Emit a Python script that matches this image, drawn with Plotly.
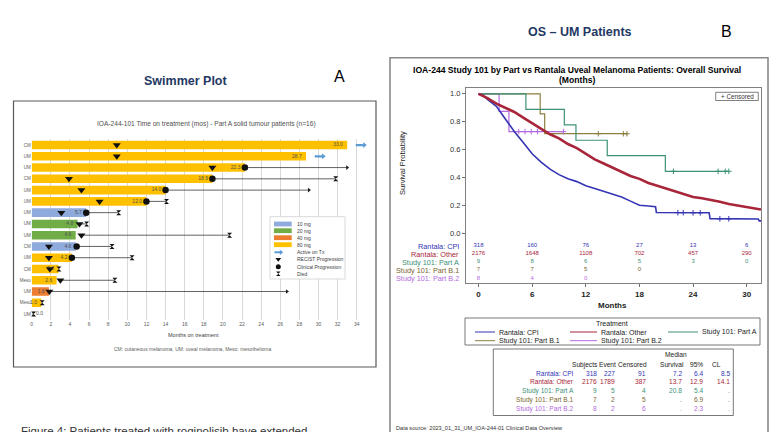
import plotly.graph_objects as go

W, H = 779, 432
FONT = "Liberation Sans, Arial, sans-serif"
NAVY = "#1F3864"

# ---------------- Panel A: swimmer plot data ----------------
sw_tumour = ["CM", "UM", "UM", "CM", "UM", "UM", "UM", "UM", "UM", "CM", "UM", "CM", "Meso", "UM", "Meso", "UM"]
sw_months = [33.0, 28.7, 22.3, 18.9, 14.0, 12.0, 5.7, 4.8, 4.6, 4.6, 4.2, 2.8, 2.6, 1.8, 1.0, 0.0]
sw_dose = ["80 mg", "80 mg", "80 mg", "80 mg", "80 mg", "80 mg", "10 mg", "20 mg", "20 mg", "10 mg",
           "80 mg", "80 mg", "80 mg", "40 mg", "80 mg", "80 mg"]
sw_recist = [8.9, 8.9, 18.9, 3.9, 5.2, 7.1, 3.1, 5.0, 5.2, 1.8, 1.8, 1.9, 3.0, 1.85, None, None]
sw_clinical = [None, None, 22.3, 18.9, 14.0, 12.0, 5.7, None, None, 4.7, 4.2, None, None, None, None, None]
sw_end = [None, None, 33.0, 31.8, 29.0, 14.1, 9.1, 5.75, 20.7, 8.4, 10.5, 2.85, 8.7, 26.7, 1.1, 0.2]
sw_status = ["active", "active", "alive", "died", "alive", "died", "died", "died", "died", "died",
             "died", "died", "died", "alive", "died", "died"]
dose_levels = ["10 mg", "20 mg", "40 mg", "80 mg"]
dose_colors = ["#8FAADC", "#70AD47", "#ED7D31", "#FFC000"]
sw_xticks = list(range(0, 35, 2))

# ---------------- Panel B: Kaplan-Meier data ----------------
km_cpi_t = [0, 0.5, 1, 2, 3, 4, 5, 6, 7, 8, 9, 10, 11, 12, 13, 14, 15, 16, 17, 18, 19, 19.8, 19.9, 25.8, 25.9, 31.3, 31.4, 31.6]
km_cpi_s = [1.0, 0.99, 0.96, 0.91, 0.82, 0.73, 0.65, 0.57, 0.51, 0.46, 0.42, 0.39, 0.37, 0.34, 0.32, 0.30, 0.28,
            0.26, 0.23, 0.20, 0.195, 0.19, 0.148, 0.146, 0.104, 0.102, 0.088, 0.088]
km_oth_t = [0, 1, 2, 3, 4, 5, 6, 7, 8, 9, 10, 11, 12, 13, 14, 15, 16, 17, 18, 19, 20, 21, 22, 23, 24, 25, 26, 27,
            28, 29, 30, 31, 31.6]
km_oth_s = [1.0, 0.97, 0.93, 0.90, 0.87, 0.83, 0.79, 0.75, 0.71, 0.68, 0.64, 0.61, 0.57, 0.53, 0.50, 0.47, 0.44,
            0.41, 0.39, 0.36, 0.34, 0.32, 0.30, 0.28, 0.26, 0.25, 0.24, 0.225, 0.21, 0.20, 0.19, 0.18, 0.17]
km_a_t = [0, 5.3, 9.6, 10.9, 14.4, 20.9, 28.0]
km_a_s = [1.0, 0.889, 0.778, 0.667, 0.556, 0.444, 0.444]
km_b1_t = [0, 6.9, 7.4, 16.7]
km_b1_s = [1.0, 0.857, 0.714, 0.714]
km_b2_t = [0, 2.3, 3.4, 9.5]
km_b2_s = [1.0, 0.875, 0.729, 0.729]
cens_a_t = [21.8, 26.8, 27.6, 28.0]
cens_a_s = [0.444, 0.444, 0.444, 0.444]
cens_b1_t = [13.4, 16.2, 16.6]
cens_b1_s = [0.714, 0.714, 0.714]
cens_b2_t = [4.5, 5.2, 5.9, 6.6, 9.5]
cens_b2_s = [0.729, 0.729, 0.729, 0.729, 0.729]
cens_cpi_t = [22.3, 22.9, 24.0, 24.8, 27.0, 28.0]
cens_cpi_s = [0.147, 0.147, 0.146, 0.146, 0.103, 0.103]

groups = ["Rantala: CPI", "Rantala: Other", "Study 101: Part A", "Study 101: Part B.1", "Study 101: Part B.2"]
group_colors = ["#3434B4", "#A8253A", "#3C9178", "#8C7F3F", "#B36BE0"]
label_colors = ["#3434B4", "#A8253A", "#3C9178", "#7A6630", "#B36BE0"]
risk_times = [0, 6, 12, 18, 24, 30]
risk_counts = [[318, 160, 76, 27, 13, 6],
               [2176, 1648, 1108, 702, 457, 290],
               [9, 8, 6, 5, 3, 0],
               [7, 7, 5, 0],
               [8, 4, 0]]
risk_rows_y = [-0.092, -0.149, -0.207, -0.264, -0.322]

tbl_subjects = [318, 2176, 9, 7, 8]
tbl_event = [227, 1789, 5, 2, 2]
tbl_censored = [91, 387, 4, 5, 6]
tbl_median = ["7.2", "13.7", "20.8", ".", "."]
tbl_cl_low = ["6.4", "12.9", "5.4", "6.9", "2.3"]
tbl_cl_high = ["8.5", "14.1", ".", ".", "."]


def px(x):
    return x / W


def py(y):
    return 1 - y / H


annotations = []
shapes = []


def ann(x, y, text, size, color="#000000", xanchor="center", yanchor="middle", bold=False, angle=0):
    annotations.append(dict(x=px(x), y=py(y), xref="paper", yref="paper", text=text, showarrow=False,
                            font=dict(family=FONT, size=size, color=color, weight="bold" if bold else "normal"),
                            xanchor=xanchor, yanchor=yanchor, textangle=angle, borderpad=0))


def rect(x0, y0, x1, y1, color, width=1.0, fill=None, layer="above"):
    shapes.append(dict(type="rect", xref="paper", yref="paper", x0=px(x0), x1=px(x1), y0=py(y1), y1=py(y0),
                       line=dict(color=color, width=width), fillcolor=fill if fill else "rgba(0,0,0,0)",
                       layer=layer))


def hline(x0, x1, y, color, width=1.0):
    shapes.append(dict(type="line", xref="paper", yref="paper", x0=px(x0), x1=px(x1), y0=py(y), y1=py(y),
                       line=dict(color=color, width=width), layer="above"))


fig = go.Figure()
rows = list(range(len(sw_months)))

# bars by dose
for lvl, col in zip(dose_levels, dose_colors):
    idx = [i for i in rows if sw_dose[i] == lvl]
    fig.add_trace(go.Bar(x=[sw_months[i] for i in idx], y=idx, orientation="h", width=0.76,
                         marker=dict(color=col, line=dict(width=0)), xaxis="x", yaxis="y"))

# bar value labels
lab_x, lab_t, lab_pos = [], [], []
for i in rows:
    m = sw_months[i]
    if m >= 0.5:
        lab_x.append(m - 0.45)
        lab_pos.append("middle left")
    else:
        lab_x.append(m + 0.45)
        lab_pos.append("middle right")
    lab_t.append(f"{m:.1f}")
fig.add_trace(go.Scatter(x=lab_x, y=rows, text=lab_t, mode="text", textposition=lab_pos,
                         textfont=dict(family=FONT, size=5, color="#505050"), cliponaxis=False,
                         xaxis="x", yaxis="y"))

# follow-up lines
fx, fy = [], []
for i in rows:
    if sw_end[i] is None:
        continue
    start = max(v for v in [sw_months[i], sw_recist[i], sw_clinical[i]] if v is not None)
    fx += [start, sw_end[i], None]
    fy += [i, i, None]
fig.add_trace(go.Scatter(x=fx, y=fy, mode="lines", line=dict(color="#3A3A3A", width=0.8),
                         cliponaxis=False, xaxis="x", yaxis="y"))

# alive arrows
al = [i for i in rows if sw_status[i] == "alive"]
fig.add_trace(go.Scatter(x=[sw_end[i] for i in al], y=al, mode="markers",
                         marker=dict(symbol="triangle-right", size=4, color="#202020"),
                         cliponaxis=False, xaxis="x", yaxis="y"))
# deaths
dd = [i for i in rows if sw_status[i] == "died"]
fig.add_trace(go.Scatter(x=[sw_end[i] for i in dd], y=dd, mode="markers",
                         marker=dict(symbol="hourglass", size=5, color="#111111"),
                         cliponaxis=False, xaxis="x", yaxis="y"))
# clinical progression
cp = [i for i in rows if sw_clinical[i] is not None]
fig.add_trace(go.Scatter(x=[sw_clinical[i] for i in cp], y=cp, mode="markers",
                         marker=dict(symbol="circle", size=6.5, color="#111111"),
                         cliponaxis=False, xaxis="x", yaxis="y"))
# RECIST progression
rp = [i for i in rows if sw_recist[i] is not None]
fig.add_trace(go.Scatter(x=[sw_recist[i] for i in rp], y=rp, mode="markers",
                         marker=dict(symbol="triangle-down", size=7, color="#111111"),
                         cliponaxis=False, xaxis="x", yaxis="y"))
# active on treatment arrows
act = [i for i in rows if sw_status[i] == "active"]
ax_, ay_ = [], []
for i in act:
    ax_ += [sw_months[i] + 0.9, sw_months[i] + 1.7, None]
    ay_ += [i, i, None]
fig.add_trace(go.Scatter(x=ax_, y=ay_, mode="lines", line=dict(color="#5B9BD5", width=2.2),
                         cliponaxis=False, xaxis="x", yaxis="y"))
fig.add_trace(go.Scatter(x=[sw_months[i] + 1.8 for i in act], y=act, mode="markers",
                         marker=dict(symbol="triangle-right", size=5, color="#5B9BD5"),
                         cliponaxis=False, xaxis="x", yaxis="y"))

# ---------------- KM curves ----------------
fig.add_trace(go.Scatter(x=km_b2_t, y=km_b2_s, mode="lines", line=dict(color=group_colors[4], width=1.2, shape="hv"),
                         xaxis="x2", yaxis="y2"))
fig.add_trace(go.Scatter(x=km_b1_t, y=km_b1_s, mode="lines", line=dict(color=group_colors[3], width=1.2, shape="hv"),
                         xaxis="x2", yaxis="y2"))
fig.add_trace(go.Scatter(x=km_a_t, y=km_a_s, mode="lines", line=dict(color=group_colors[2], width=1.2, shape="hv"),
                         xaxis="x2", yaxis="y2"))
fig.add_trace(go.Scatter(x=km_cpi_t, y=km_cpi_s, mode="lines", line=dict(color=group_colors[0], width=1.6),
                         xaxis="x2", yaxis="y2"))
fig.add_trace(go.Scatter(x=km_oth_t, y=km_oth_s, mode="lines", line=dict(color=group_colors[1], width=2.6),
                         xaxis="x2", yaxis="y2"))
for ct, cs, col in [(cens_a_t, cens_a_s, group_colors[2]), (cens_b1_t, cens_b1_s, group_colors[3]),
                    (cens_b2_t, cens_b2_s, group_colors[4]), (cens_cpi_t, cens_cpi_s, group_colors[0])]:
    fig.add_trace(go.Scatter(x=ct, y=cs, mode="markers",
                             marker=dict(symbol="cross-thin", size=4, line=dict(color=col, width=1)),
                             xaxis="x2", yaxis="y2"))

# at-risk numbers
for g in range(len(groups)):
    cnt = risk_counts[g]
    fig.add_trace(go.Scatter(x=risk_times[:len(cnt)], y=[risk_rows_y[g]] * len(cnt), text=[str(c) for c in cnt],
                             mode="text", textfont=dict(family=FONT, size=6, color=label_colors[g]),
                             cliponaxis=False, xaxis="x2", yaxis="y2"))

# ---------------- swimmer legend (pixel overlay axes, drawn above the swimmer grid) ----------------
fig.add_trace(go.Scatter(x=[270, 345, 345, 270, 270], y=[216.7, 216.7, 279, 279, 216.7], mode="lines",
                         fill="toself", fillcolor="white", line=dict(color="#D0D0D0", width=0.8),
                         xaxis="x3", yaxis="y3", cliponaxis=False))
leg_x = 278.3
fig.add_trace(go.Scatter(x=[274.5, 280], y=[252.3, 252.3], mode="lines", line=dict(color="#5B9BD5", width=2),
                         xaxis="x3", yaxis="y3", cliponaxis=False))
fig.add_trace(go.Scatter(x=[281], y=[252.3], mode="markers",
                         marker=dict(symbol="triangle-right", size=4.5, color="#5B9BD5"),
                         xaxis="x3", yaxis="y3", cliponaxis=False))
fig.add_trace(go.Scatter(x=[leg_x], y=[259.3], mode="markers", marker=dict(symbol="triangle-down", size=5, color="#111"),
                         xaxis="x3", yaxis="y3", cliponaxis=False))
fig.add_trace(go.Scatter(x=[leg_x], y=[266.7], mode="markers", marker=dict(symbol="circle", size=5, color="#111"),
                         xaxis="x3", yaxis="y3", cliponaxis=False))
fig.add_trace(go.Scatter(x=[leg_x], y=[273.7], mode="markers", marker=dict(symbol="hourglass", size=4.5, color="#111"),
                         xaxis="x3", yaxis="y3", cliponaxis=False))

# ---------------- Panel A decorations ----------------
ann(185, 81, "Swimmer Plot", 12.5, NAVY, bold=True)
ann(339, 77, "A", 16, "#000000")
rect(13.5, 101, 376, 367, "#595959", 1.2, layer="below")
ann(206, 124, "IOA-244-101 Time on treatment (mos) - Part A solid tumour patients (n=16)", 6.6, "#505050")
ann(193, 335, "Months on treatment", 5.5, "#404040")
ann(193, 349, "CM: cutaneous melanoma, UM: uveal melanoma, Meso: mesothelioma", 5, "#606060")
leg_rows = [224, 230.7, 237.7, 244.7]
for yy, lvl, col in zip(leg_rows, dose_levels, dose_colors):
    shapes.append(dict(type="rect", xref="paper", yref="paper", x0=px(274), x1=px(291.7), y0=py(yy + 2.4),
                       y1=py(yy - 2.4), line=dict(width=0), fillcolor=col, layer="above"))
    ann(296, yy, lvl, 5, "#404040", xanchor="left")
for yy, t in zip([252.3, 259.3, 266.7, 273.7], ["Active on Tx", "RECIST Progression", "Clinical Progression", "Died"]):
    ann(296, yy, t, 5, "#404040", xanchor="left")

ann(20, 423.5, "Figure 4: Patients treated with roginolisib have extended", 11.5, "#333333", xanchor="left",
    yanchor="top")

# ---------------- Panel B decorations ----------------
ann(580, 32, "OS – UM Patients", 12.5, NAVY, bold=True)
ann(726, 31, "B", 16, "#000000")
rect(390, 57.7, 768, 445, "#8A8A8A", 1.6, layer="below")
ann(577, 70, "IOA-244 Study 101 by Part vs Rantala Uveal Melanoma Patients: Overall Survival", 8.6, "#000000",
    bold=True)
ann(577, 80.5, "(Months)", 8.6, "#000000", bold=True)
ann(402, 163, "Survival Probability", 7.5, "#222222", angle=-90)
ann(612, 305.7, "Months", 8, "#222222", bold=True)
rect(715.7, 92.3, 758.3, 100.5, "#606060", 0.8)
ann(737, 96.4, "+ Censored", 6.3, "#333333")
for g in range(len(groups)):
    ann(460, 246 + g * 8.1, groups[g], 7.3, label_colors[g], xanchor="right")

# KM legend
rect(465, 318, 760, 345, "#555555", 0.8)
ann(612, 323, "Treatment", 7, "#222222")
leg_pos = [(475, 495, 498, 332), (570, 597, 600, 332), (668, 698, 701, 332), (475, 495, 498, 340.7),
           (570, 597, 600, 340.7)]
for g, (l0, l1, tx, yy) in enumerate(leg_pos):
    hline(l0, l1, yy, group_colors[g], 1.0)
    ann(tx, yy, groups[g], 7, "#222222", xanchor="left")

# statistics table
rect(493.3, 349, 733.3, 415.5, "#555555", 0.8)
TS = 6.6
ann(676, 354.5, "Median", TS, "#222222")
hdr = [("Subjects", 598.5), ("Event", 617), ("Censored", 648), ("Survival", 684.5), ("95%", 703.5), ("CL", 722)]
for t, xr in hdr:
    ann(xr, 364.5, t, TS, "#222222", xanchor="right")
cols_x = [597.5, 616, 646.5, 682.5, 703.5, 731]
for g in range(len(groups)):
    yy = 373 + g * 8.9
    ann(574.5, yy, groups[g], TS, label_colors[g], xanchor="right")
    vals = [str(tbl_subjects[g]), str(tbl_event[g]), str(tbl_censored[g]), tbl_median[g], tbl_cl_low[g],
            tbl_cl_high[g]]
    for v, xr in zip(vals, cols_x):
        ann(xr, yy, v, TS, label_colors[g], xanchor="right")
ann(395, 427.5, "Data source: 2023_01_31_UM_IOA-244-01 Clinical Data Overview", 5.6, "#333333", xanchor="left")

# ---------------- layout ----------------
sx0, sx1 = 31.7, 31.7 + 35 * 9.56
fig.update_layout(
    width=W, height=H, margin=dict(l=0, r=0, t=0, b=0), showlegend=False,
    paper_bgcolor="white", plot_bgcolor="rgba(0,0,0,0)", barmode="overlay",
    font=dict(family=FONT),
    xaxis=dict(domain=[px(sx0), px(sx1)], range=[0, 35], tickvals=sw_xticks, showgrid=True, gridcolor="#D9D9D9",
               gridwidth=0.6, zeroline=False, showline=False, ticks="",
               tickfont=dict(family=FONT, size=5, color="#595959"), anchor="y", fixedrange=True),
    yaxis=dict(domain=[py(319.7), py(139.4)], range=[15.5, -0.5], tickvals=rows, ticktext=sw_tumour,
               showgrid=False, zeroline=False, showline=False, ticks="",
               tickfont=dict(family=FONT, size=4.5, color="#595959"), anchor="x", fixedrange=True),
    xaxis2=dict(domain=[px(466), px(761)], range=[-1.4, 31.6], tickvals=risk_times, ticks="outside", ticklen=3,
                tickcolor="#707070", showline=True, mirror=True, linecolor="#808080", linewidth=1, showgrid=False,
                zeroline=False, tickfont=dict(family=FONT, size=8, color="#222222", weight="bold"), anchor="y2"),
    yaxis2=dict(domain=[py(283.3), py(88.3)], range=[-0.36, 1.04], tickvals=[0, 0.2, 0.4, 0.6, 0.8, 1.0],
                ticktext=["0.0", "0.2", "0.4", "0.6", "0.8", "1.0"], ticks="outside", ticklen=3, tickcolor="#707070",
                showline=True, mirror=True, linecolor="#808080", linewidth=1, showgrid=False, zeroline=False,
                tickfont=dict(family=FONT, size=7.5, color="#333333"), anchor="x2"),
    xaxis3=dict(domain=[0, 1], range=[0, W], visible=False, anchor="y3", fixedrange=True),
    yaxis3=dict(domain=[0, 1], range=[H, 0], visible=False, anchor="x3", fixedrange=True),
    annotations=annotations, shapes=shapes,
)

fig.write_html("out.html", config={"displayModeBar": False},
               post_script="document.body.style.margin='0';document.body.style.overflow='hidden';")
